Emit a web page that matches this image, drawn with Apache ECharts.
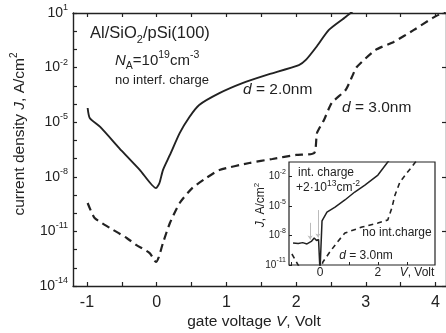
<!DOCTYPE html>
<html>
<head>
<meta charset="utf-8">
<script src="https://cdn.jsdelivr.net/npm/echarts@6/dist/echarts.min.js"></script>
<style>
  html, body { margin: 0; padding: 0; background: #fff; }
  #chart { width: 446px; height: 333px; }
</style>
</head>
<body>
<div id="chart"></div>
<script>
// values: gate voltage V (Volt) and log10 of J (A/cm2)
const d2Volt = [-0.99, -0.96, -0.81, -0.5, -0.24, -0.01, 0.04, 0.09, 0.19, 0.33, 0.47, 0.61, 0.9, 1.23, 1.57, 2.04, 2.14, 2.29, 2.47, 2.71, 2.94];
const d2LogJ = [-4.22, -4.77, -5.26, -6.58, -7.63, -8.62, -8.34, -7.63, -6.8, -5.6, -4.71, -4.05, -3.4, -2.85, -2.41, -1.86, -1.58, -0.87, 0.07, 0.78, 1.5];

const d3Volt = [-0.99, -0.89, -0.67, -0.43, -0.29, -0.1, -0.01, 0.03, 0.09, 0.19, 0.33, 0.51, 0.71, 0.9, 1.33, 1.66, 2.0, 2.26, 2.3, 2.4, 2.51, 2.71, 2.8, 2.87, 3.14, 3.4, 3.69, 3.96, 4.15];
const d3LogJ = [-9.44, -10.26, -10.81, -11.36, -11.75, -12.19, -12.68, -12.41, -11.64, -10.54, -9.44, -8.62, -8.07, -7.63, -7.24, -7.02, -6.8, -6.69, -5.59, -4.88, -3.95, -3.23, -2.52, -1.97, -1.03, -0.59, 0.07, 0.73, 1.1];

// inset, d = 3.0nm
const chargeVolt = [-0.93, -0.75, -0.6, -0.45, -0.3, -0.2, -0.12, -0.05, -0.02, 0.0, 0.04, 0.07, 0.24, 0.52, 0.86, 1.2, 1.55, 2.0, 2.34, 2.45];
const chargeLogJ = [-8.76, -8.8, -8.72, -8.85, -8.6, -8.25, -8.5, -8.4, -8.3, -11.6, -11.6, -6.5, -5.6, -5.09, -4.37, -3.56, -2.85, -1.83, -0.5, -0.1];
const noChargeVolt = [-0.97, -0.85, -0.7, 0.0, 0.1, 0.34, 0.6, 0.86, 1.45, 2.0, 2.34, 2.48, 2.59, 2.76, 3.0, 3.17, 3.35];
const noChargeLogJ = [-9.88, -10.49, -11.3, -11.7, -10.69, -9.67, -8.66, -7.74, -7.13, -6.72, -6.41, -5.19, -3.86, -2.54, -1.62, -1.0, -0.3];
const arrowVolt = [-0.34, -0.07];
const arrowFrom = [-6.7, -5.4];
const arrowTo = [-8.4, -8.2];

const mainXLabels = [-1, 0, 1, 2, 3, 4];
const mainXTicks = [-1, -0.5, 0, 0.5, 1, 1.5, 2, 2.5, 3, 3.5, 4];
const mainYLabels = [-14, -11, -8, -5, -2, 1];
const mainYTicks = [-14, -13, -12, -11, -10, -9, -8, -7, -6, -5, -4, -3, -2, -1, 0, 1];
const insetXLabels = [0, 2];
const insetXTicks = [-1, 0, 1, 2, 3];
const insetYLabels = [-11, -8, -5, -2];

const FONT = '"Liberation Sans", Arial, Helvetica, sans-serif';
const INK = '#222';

function pairs(xs, ys) {
  return xs.map((x, i) => [x, ys[i]]);
}

// rich text token styles for graphic texts (each token needs its own family)
function tok(size, extra) {
  return Object.assign({ fontFamily: FONT, fontSize: size, fill: INK }, extra || {});
}
function label(x, y, text, size, opts) {
  opts = opts || {};
  const small = opts.small || Math.round(size * 0.65);
  const lh = opts.lh || size + 6;
  return {
    type: 'text',
    x: x,
    y: y,
    rotation: opts.rotation || 0,
    style: {
      text: text,
      fontFamily: FONT,
      fontSize: size,
      fill: INK,
      lineHeight: lh,
      align: opts.align || 'left',
      verticalAlign: 'middle',
      rich: {
        i: tok(size, { fontStyle: 'italic', lineHeight: lh }),
        sup: tok(small, { lineHeight: small, verticalAlign: 'top' }),
        sub: tok(small, { lineHeight: small, verticalAlign: 'bottom' })
      }
    }
  };
}

function powLabels(size, small, margin, values) {
  return {
    customValues: values,
    margin: margin,
    color: INK,
    formatter: v => '{b|10}{s|' + v + '}',
    rich: {
      b: { fontFamily: FONT, fontSize: size, lineHeight: size + 6, color: INK },
      s: { fontFamily: FONT, fontSize: small, lineHeight: small, verticalAlign: 'top', color: INK }
    }
  };
}

const axisLine = { show: true, onZero: false, lineStyle: { color: INK, width: 1.4 } };
const noLine = { show: false, onZero: false };
const chart = echarts.init(document.getElementById('chart'));

const options = {
  animation: false,
  backgroundColor: '#fff',
  grid: [
    { left: 73, top: 13, width: 374.5, height: 273, show: false },
    { left: 289, top: 162, width: 146, height: 103, show: true, backgroundColor: '#fff', borderColor: INK, borderWidth: 1.2 }
  ],
  xAxis: [
    {
      type: 'value', gridIndex: 0, position: 'bottom', min: -1.2, max: 4.15,
      axisLine: axisLine, splitLine: { show: false },
      axisTick: { inside: true, length: 4, customValues: mainXTicks, lineStyle: { color: INK, width: 1.2 } },
      axisLabel: { customValues: mainXLabels, margin: 9, fontFamily: FONT, fontSize: 16, color: INK }
    },
    {
      type: 'value', gridIndex: 0, position: 'top', min: -1.2, max: 4.15,
      axisLine: axisLine, splitLine: { show: false },
      axisTick: { inside: true, length: 4, customValues: mainXTicks, lineStyle: { color: INK, width: 1.2 } },
      axisLabel: { show: false }
    },
    {
      type: 'value', gridIndex: 1, position: 'bottom', min: -1.07, max: 3.97,
      axisLine: noLine, splitLine: { show: false },
      axisTick: { inside: true, length: 3, customValues: insetXTicks, lineStyle: { color: INK } },
      axisLabel: { customValues: insetXLabels, margin: 2, fontFamily: FONT, fontSize: 12, color: INK }
    }
  ],
  yAxis: [
    {
      type: 'value', gridIndex: 0, position: 'left', min: -14, max: 1,
      axisLine: axisLine, splitLine: { show: false },
      axisTick: { inside: true, length: 4, customValues: mainYTicks, lineStyle: { color: INK, width: 1.2 } },
      axisLabel: powLabels(14, 9, 5, mainYLabels)
    },
    {
      type: 'value', gridIndex: 0, position: 'right', min: -14, max: 1,
      axisLine: axisLine, splitLine: { show: false },
      axisTick: { inside: true, length: 4, customValues: mainYLabels, lineStyle: { color: INK, width: 1.2 } },
      axisLabel: { show: false }
    },
    {
      type: 'value', gridIndex: 1, position: 'left', min: -11, max: -0.5,
      axisLine: noLine, splitLine: { show: false },
      axisTick: { inside: true, length: 3, customValues: insetYLabels, lineStyle: { color: INK } },
      axisLabel: powLabels(10, 7, 3, insetYLabels)
    }
  ],
  series: [
    {
      name: 'd = 2.0nm', type: 'line', xAxisIndex: 0, yAxisIndex: 0,
      data: pairs(d2Volt, d2LogJ), showSymbol: false, smooth: 0.2,
      lineStyle: { color: INK, width: 1.9 }
    },
    {
      name: 'd = 3.0nm', type: 'line', xAxisIndex: 0, yAxisIndex: 0,
      data: pairs(d3Volt, d3LogJ), showSymbol: false, smooth: 0.2,
      lineStyle: { color: INK, width: 2.2, type: [8, 5] }
    },
    {
      name: 'int. charge', type: 'line', xAxisIndex: 2, yAxisIndex: 2,
      data: pairs(chargeVolt, chargeLogJ), showSymbol: false,
      lineStyle: { color: INK, width: 1.5 },
      markLine: {
        silent: true, symbol: ['none', 'arrow'], symbolSize: 4,
        label: { show: false },
        lineStyle: { color: '#bbb', width: 1, type: 'solid' },
        data: arrowVolt.map((v, i) => [{ coord: [v, arrowFrom[i]] }, { coord: [v, arrowTo[i]] }])
      }
    },
    {
      name: 'no int. charge', type: 'line', xAxisIndex: 2, yAxisIndex: 2,
      data: pairs(noChargeVolt, noChargeLogJ), showSymbol: false,
      lineStyle: { color: INK, width: 1.6, type: [5, 4] }
    }
  ],
  graphic: [
    label(20, 134, 'current density {i|J}, A/cm{sup|2}', 15.5, { align: 'center', rotation: Math.PI / 2, small: 10, lh: 22 }),
    label(254, 322, 'gate voltage {i|V}, Volt', 15.5, { align: 'center' }),
    label(90, 33, 'Al/SiO{sub|2}/pSi(100)', 16.5, { small: 11, lh: 24 }),
    label(115, 61, '{i|N}{sub|A}=10{sup|19}cm{sup|-3}', 15, { small: 10.5, lh: 22 }),
    label(115, 80, 'no interf. charge', 13),
    label(243, 90, '{i|d} = 2.0nm', 15.5),
    label(342, 108, '{i|d} = 3.0nm', 15.5),
    label(298, 173, 'int. charge', 12),
    label(296, 188, '+2\u00b710{sup|13}cm{sup|-2}', 12, { small: 8.5, lh: 17 }),
    label(397, 233, 'no int.charge', 12, { align: 'center' }),
    label(366, 256, '{i|d} = 3.0nm', 12, { align: 'center' }),
    label(417, 273, '{i|V}, Volt', 12, { align: 'center' }),
    label(261, 205, '{i|J}, A/cm{sup|2}', 12, { align: 'center', rotation: Math.PI / 2, small: 8, lh: 16 })
  ]
};

chart.setOption(options);
</script>
</body>
</html>
